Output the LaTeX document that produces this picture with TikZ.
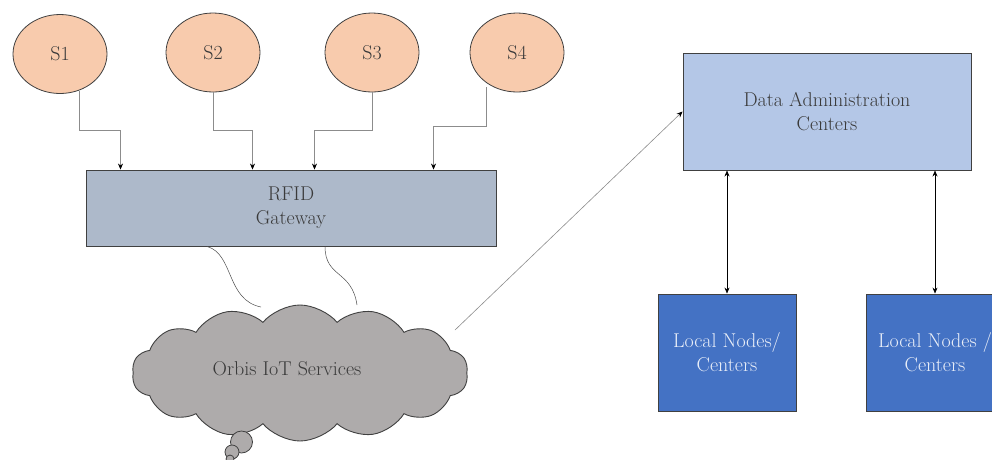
\documentclass[tikz,border=0pt]{standalone}
\usetikzlibrary{shapes.geometric,shapes.symbols,arrows.meta}
\definecolor{sfill}{HTML}{F8CBAD}
\definecolor{gwfill}{HTML}{ADB9CA}
\definecolor{dafill}{HTML}{B4C7E7}
\definecolor{lnfill}{HTML}{4472C4}
\definecolor{cloudfill}{HTML}{AEABAB}
\definecolor{edgec}{HTML}{404040}
\definecolor{linkc}{HTML}{8C8C8C}
\definecolor{txt}{HTML}{3A3A3A}
\begin{document}
\begin{tikzpicture}[x=1pt,y=-1pt,
  sensor/.style={ellipse, draw=edgec, fill=sfill, line width=0.8pt, inner sep=0pt, text=txt,
                 minimum width=94pt, minimum height=79pt, font=\fontsize{20}{24}\selectfont},
  boxs/.style={rectangle, draw=edgec, line width=0.9pt, inner sep=0pt, align=center, font=\fontsize{20}{24}\selectfont},
  link/.style={draw=linkc, line width=0.6pt},
  tip/.style={-{Stealth[length=6pt,width=5pt,black]}},
  btip/.style={{Stealth[length=6pt,width=5pt]}-{Stealth[length=6pt,width=5pt]}},
  wire/.style={draw=black!70, line width=0.5pt}]
\useasboundingbox (0,0) rectangle (992,459);
\clip (0,0) rectangle (992,459);

% sensors
\node[sensor] (s1) at (60,54) {S1};
\node[sensor] (s2) at (213,52.5) {S2};
\node[sensor] (s3) at (372,52.5) {S3};
\node[sensor] (s4) at (517,52.5) {S4};

% gateway
\node[boxs, fill=gwfill, text=txt, minimum width=410pt, minimum height=76pt] (rfid) at (291,208) {RFID\\Gateway};

% data administration
\node[boxs, fill=dafill, text=txt, minimum width=288pt, minimum height=117pt] (da) at (827,111.5) {Data Administration\\Centers};

% local nodes
\node[boxs, fill=lnfill, text=white!88!lnfill, minimum width=138pt, minimum height=117pt] (ln1) at (727,352.5) {Local Nodes/\\Centers};
\node[boxs, fill=lnfill, text=white!88!lnfill, minimum width=138pt, minimum height=117pt] (ln2) at (935,352.5) {Local Nodes /\\Centers};

% cloud
\node[cloud, draw=edgec, fill=cloudfill, line width=0.9pt, cloud puffs=14, cloud puff arc=100, aspect=2.5,
      minimum width=336pt, minimum height=136pt, inner sep=0pt] (cloud) at (300,373) {};
\node[text=txt, font=\fontsize{20}{24}\selectfont] (cloudtxt) at (287,369) {Orbis IoT Services};
\draw[draw=edgec, fill=cloudfill, line width=0.8pt] (241.5,442) circle (11pt);
\draw[draw=edgec, fill=cloudfill, line width=0.8pt] (232,452) circle (7pt);
\draw[draw=edgec, fill=cloudfill, line width=0.8pt] (230,459) circle (4pt);

% sensor connectors
\draw[link, tip] ([xshift=19pt,yshift=3pt]s1.south) |- (120.5,130) -- (120.5,0 |- rfid.north);
\draw[link, tip] (s2.south) |- (252.5,130) -- (252.5,0 |- rfid.north);
\draw[link, tip] (s3.south) |- (314.5,130) -- (314.5,0 |- rfid.north);
\draw[link, tip] ([xshift=-31pt,yshift=5pt]s4.south) |- (433.5,126) -- (433.5,0 |- rfid.north);

% gateway to cloud wires
\draw[wire] (207,0 |- rfid.south) .. controls (234,254) and (226,300) .. (261,307);
\draw[wire] (325,0 |- rfid.south) .. controls (325,278) and (352,270) .. (357,305);

% cloud to data administration
\draw[link, tip] (455,330) -- (da.west);

% data administration to local nodes
\draw[black, line width=0.6pt, btip] (727,0 |- da.south) -- (ln1.north);
\draw[black, line width=0.6pt, btip] (935,0 |- da.south) -- (ln2.north);
\end{tikzpicture}
\end{document}
